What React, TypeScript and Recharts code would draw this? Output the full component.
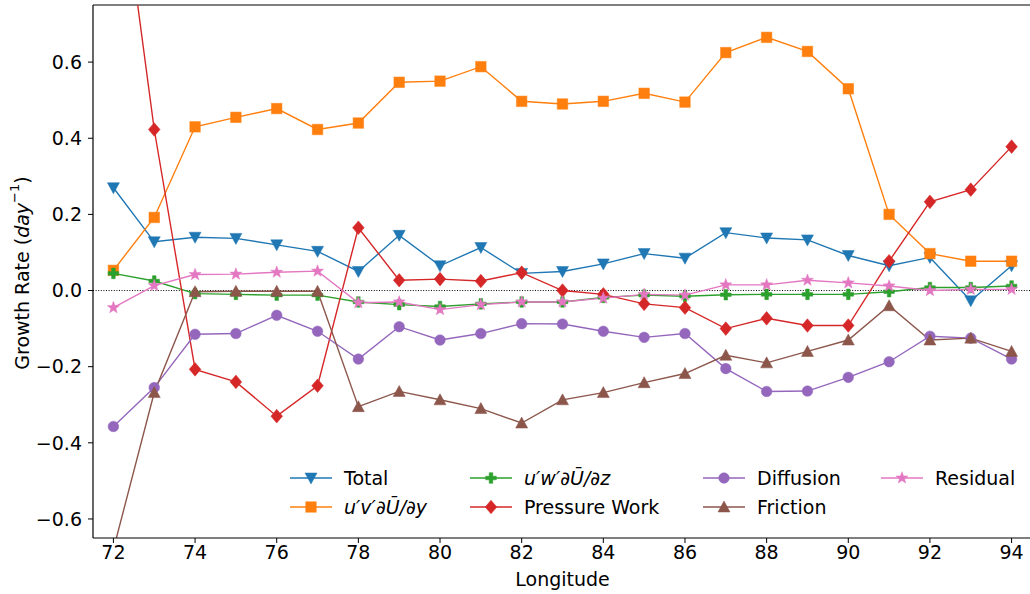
import React from 'react';
import { LineChart, Line, XAxis, YAxis, ReferenceLine, Legend } from 'recharts';

const LONGITUDE = [72, 73, 74, 75, 76, 77, 78, 79, 80, 81, 82, 83, 84, 85, 86, 87, 88, 89, 90, 91, 92, 93, 94];

const TOTAL = [0.27, 0.128, 0.14, 0.137, 0.12, 0.103, 0.05, 0.145, 0.065, 0.113, 0.045, 0.05, 0.07, 0.097, 0.085, 0.152, 0.138, 0.133, 0.092, 0.065, 0.087, -0.027, 0.065];
const UV_SHEAR = [0.053, 0.192, 0.43, 0.455, 0.478, 0.423, 0.44, 0.547, 0.55, 0.588, 0.497, 0.49, 0.497, 0.518, 0.495, 0.625, 0.665, 0.628, 0.53, 0.2, 0.097, 0.077, 0.077];
const UW_SHEAR = [0.045, 0.025, -0.008, -0.01, -0.012, -0.012, -0.03, -0.037, -0.042, -0.035, -0.03, -0.03, -0.018, -0.012, -0.015, -0.011, -0.01, -0.01, -0.01, -0.003, 0.008, 0.008, 0.012];
const PRESSURE = [1.23, 0.423, -0.207, -0.24, -0.33, -0.25, 0.165, 0.027, 0.03, 0.025, 0.047, 0.0, -0.01, -0.035, -0.045, -0.1, -0.073, -0.092, -0.092, 0.077, 0.233, 0.265, 0.378];
const DIFFUSION = [-0.357, -0.255, -0.115, -0.113, -0.065, -0.107, -0.18, -0.095, -0.13, -0.113, -0.087, -0.088, -0.107, -0.123, -0.113, -0.205, -0.265, -0.264, -0.228, -0.187, -0.12, -0.125, -0.18];
const FRICTION = [-0.68, -0.268, -0.003, -0.002, -0.002, -0.002, -0.305, -0.265, -0.287, -0.31, -0.348, -0.287, -0.268, -0.242, -0.218, -0.17, -0.19, -0.16, -0.13, -0.04, -0.13, -0.125, -0.16];
const RESIDUAL = [-0.045, 0.013, 0.042, 0.043, 0.048, 0.051, -0.032, -0.03, -0.05, -0.037, -0.03, -0.03, -0.02, -0.01, -0.012, 0.015, 0.015, 0.027, 0.02, 0.012, 0.0, 0.003, 0.003];

const X_TICKS = [72, 74, 76, 78, 80, 82, 84, 86, 88, 90, 92, 94];
const Y_TICKS = [-0.6, -0.4, -0.2, 0, 0.2, 0.4, 0.6];

type Shape = 'tdown' | 'square' | 'plus' | 'diamond' | 'circle' | 'tup' | 'star';

const SERIES: { key: string; name: React.ReactNode; color: string; shape: Shape; values: number[] }[] = [
  { key: 'total', name: 'Total', color: '#1f77b4', shape: 'tdown', values: TOTAL },
  { key: 'uv', name: <i>u′v′∂Ū/∂y</i>, color: '#ff7f0e', shape: 'square', values: UV_SHEAR },
  { key: 'uw', name: <i>u′w′∂Ū/∂z</i>, color: '#2ca02c', shape: 'plus', values: UW_SHEAR },
  { key: 'pw', name: 'Pressure Work', color: '#d62728', shape: 'diamond', values: PRESSURE },
  { key: 'diff', name: 'Diffusion', color: '#9467bd', shape: 'circle', values: DIFFUSION },
  { key: 'fric', name: 'Friction', color: '#8c564b', shape: 'tup', values: FRICTION },
  { key: 'res', name: 'Residual', color: '#e377c2', shape: 'star', values: RESIDUAL },
];

const data = LONGITUDE.map((lon, i) => {
  const row: Record<string, number> = { lon };
  SERIES.forEach(s => { row[s.key] = s.values[i]; });
  return row;
});

const FONT = '"DejaVu Sans", sans-serif';

function Marker({ cx, cy, color, shape }: { cx: number; cy: number; color: string; shape: Shape }) {
  if (cx == null || cy == null || isNaN(cx) || isNaN(cy)) return null;
  const p = { fill: color, stroke: color, strokeOpacity: 0.5, strokeWidth: 1 };
  switch (shape) {
    case 'tdown':
      return <polygon {...p} points={`${cx - 6},${cy - 5} ${cx + 6},${cy - 5} ${cx},${cy + 6}`} />;
    case 'tup':
      return <polygon {...p} points={`${cx - 6},${cy + 5} ${cx + 6},${cy + 5} ${cx},${cy - 6}`} />;
    case 'square':
      return <rect {...p} x={cx - 5.25} y={cy - 5.25} width={10.5} height={10.5} />;
    case 'circle':
      return <circle {...p} cx={cx} cy={cy} r={5.3} />;
    case 'diamond':
      return <polygon {...p} points={`${cx},${cy - 6.8} ${cx + 5.8},${cy} ${cx},${cy + 6.8} ${cx - 5.8},${cy}`} />;
    case 'plus': {
      const a = 5.3, b = 1.8;
      return <polygon {...p} points={`${cx - b},${cy - a} ${cx + b},${cy - a} ${cx + b},${cy - b} ${cx + a},${cy - b} ${cx + a},${cy + b} ${cx + b},${cy + b} ${cx + b},${cy + a} ${cx - b},${cy + a} ${cx - b},${cy + b} ${cx - a},${cy + b} ${cx - a},${cy - b} ${cx - b},${cy - b}`} />;
    }
    case 'star': {
      const pts: string[] = [];
      for (let k = 0; k < 10; k++) {
        const r = k % 2 === 0 ? 6.3 : 2.6;
        const ang = -Math.PI / 2 + (k * Math.PI) / 5;
        pts.push(`${cx + r * Math.cos(ang)},${cy + r * Math.sin(ang)}`);
      }
      return <polygon {...p} points={pts.join(' ')} />;
    }
  }
  return null;
}

const fmtY = (v: number) => (v === 0 ? '0.0' : v.toFixed(1).replace('-', '\u2212'));

// legend slots (column-major, 4 columns like matplotlib ncol=4)
const LEGEND_COLS = [290, 470, 703, 881];
const LEGEND_ROWS = [478, 507];

function LegendBox() {
  return (
    <div style={{ position: 'relative', width: 1030, height: 594, pointerEvents: 'none' }}>
      {SERIES.map((s, i) => {
        const col = Math.floor(i / 2);
        const row = i % 2;
        const x = LEGEND_COLS[col];
        const y = LEGEND_ROWS[row];
        return (
          <div key={s.key} style={{ position: 'absolute', left: x, top: y - 14, height: 28, display: 'flex', alignItems: 'center', fontFamily: FONT, fontSize: 19, color: '#000', whiteSpace: 'nowrap' }}>
            <svg width={42} height={28} style={{ display: 'block' }}>
              <line x1={0} y1={14} x2={42} y2={14} stroke={s.color} strokeWidth={1.4} />
              <Marker cx={21} cy={14} color={s.color} shape={s.shape} />
            </svg>
            <span style={{ marginLeft: 12 }}>{s.name}</span>
          </div>
        );
      })}
    </div>
  );
}

export default function App() {
  return (
    <div style={{ width: 1030, height: 594, overflow: 'hidden', position: 'relative', background: '#fff' }}>
      <style>{'body{margin:0}'}</style>
      <LineChart width={1034} height={594} data={data} margin={{ top: 5, right: 2, bottom: 0, left: 0 }}>
        <XAxis dataKey="lon" type="number" domain={[71.5, 94.5]} ticks={X_TICKS} height={56}
          tick={{ fill: '#000', fontSize: 19, fontFamily: FONT }} tickMargin={3} tickSize={5}
          stroke="#000" axisLine={{ stroke: '#000', strokeWidth: 1.2 }} tickLine={{ stroke: '#000' }}
          label={{ value: 'Longitude', position: 'insideBottom', offset: 8, fill: '#000', fontSize: 19, fontFamily: FONT }} />
        <YAxis type="number" domain={[-0.65, 0.75]} allowDataOverflow ticks={Y_TICKS} width={93}
          tickFormatter={fmtY} tick={{ fill: '#000', fontSize: 19, fontFamily: FONT }} tickMargin={6} tickSize={5}
          axisLine={{ stroke: '#000', strokeWidth: 1.2 }} tickLine={{ stroke: '#000' }}
          label={() => (
            <text x={22} y={273} transform="rotate(-90 22 273)" textAnchor="middle" dominantBaseline="central"
              fontSize={19} fontFamily={FONT} fill="#000">
              Growth Rate (<tspan fontStyle="italic">day</tspan><tspan dy={-8} fontSize={13}>−1</tspan><tspan dy={8}>)</tspan>
            </text>
          )} />
        <ReferenceLine y={0.75} stroke="#000" strokeWidth={1.2} />
        <ReferenceLine x={94.5} stroke="#000" strokeWidth={1.2} />
        <ReferenceLine y={0} stroke="#000" strokeWidth={1} strokeDasharray="1 1.6" />
        {SERIES.map(s => (
          <Line key={s.key} dataKey={s.key} name={s.key} stroke={s.color} strokeWidth={1.4} type="linear"
            isAnimationActive={false} legendType="none"
            dot={(props: any) => <Marker key={`${s.key}-${props.index}`} cx={props.cx} cy={props.cy} color={s.color} shape={s.shape} />}
            activeDot={false} />
        ))}
        <Legend layout="vertical" align="center" verticalAlign="middle" content={() => <LegendBox />}
          wrapperStyle={{ position: 'absolute', left: 0, top: 0, width: 1030, height: 594, margin: 0 }} />
      </LineChart>
    </div>
  );
}
